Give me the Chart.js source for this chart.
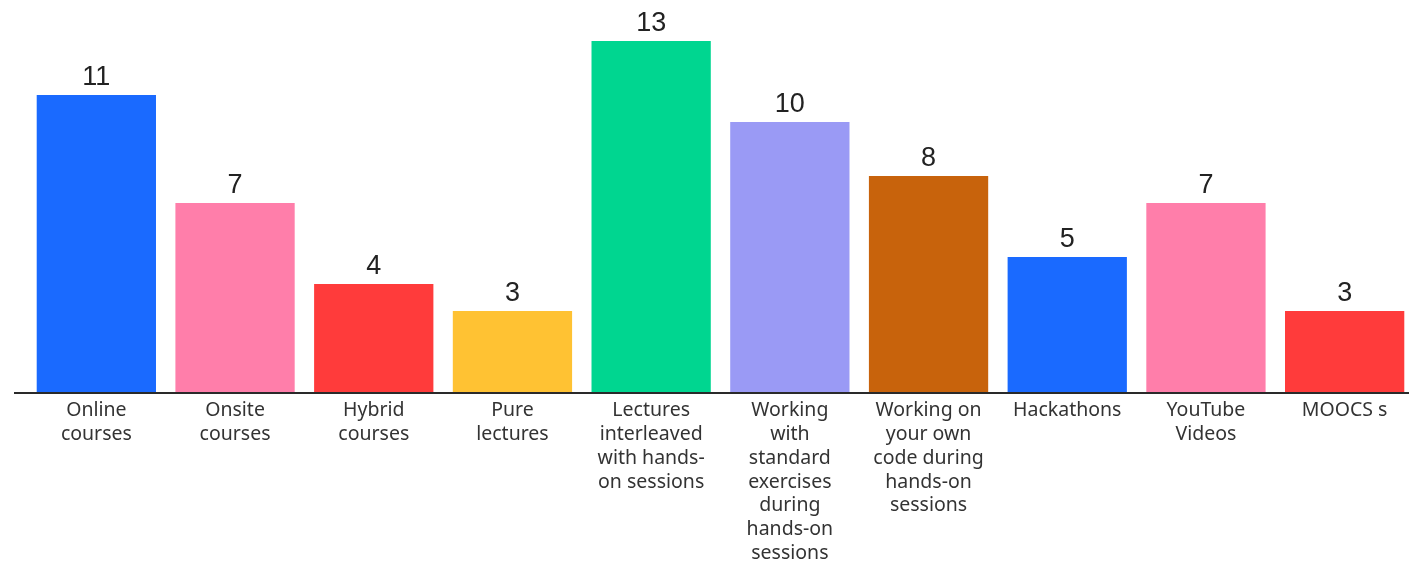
<!DOCTYPE html>
<html>
<head>
<meta charset="utf-8">
<script src="https://cdn.jsdelivr.net/npm/chart.js@4/dist/chart.umd.min.js"></script>
<style>
  html, body { margin: 0; padding: 0; background: #fff; overflow: hidden; }
  #wrap { width: 1414px; height: 563px; }
</style>
</head>
<body>
<div id="wrap"><canvas id="chart"></canvas></div>
<script>
var categories = [
  ['Online', 'courses'],
  ['Onsite', 'courses'],
  ['Hybrid', 'courses'],
  ['Pure', 'lectures'],
  ['Lectures', 'interleaved', 'with hands-', 'on sessions'],
  ['Working', 'with', 'standard', 'exercises', 'during', 'hands-on', 'sessions'],
  ['Working on', 'your own', 'code during', 'hands-on', 'sessions'],
  ['Hackathons'],
  ['YouTube', 'Videos'],
  ['MOOCS s']
];
var values = [11, 7, 4, 3, 13, 10, 8, 5, 7, 3];
var barColors = ['#1a6aff', '#ff7eaa', '#ff3b3b', '#ffc233', '#00d690',
                 '#9a9af5', '#c8630c', '#1a6aff', '#ff7eaa', '#ff3b3b'];

// value labels on top of the bars
var valueLabels = {
  id: 'valueLabels',
  afterDatasetsDraw: function(chart) {
    var ctx = chart.ctx;
    var meta = chart.getDatasetMeta(0);
    ctx.save();
    ctx.font = '27px "Liberation Sans", Arial, sans-serif';
    ctx.fillStyle = '#222';
    ctx.textAlign = 'center';
    ctx.textBaseline = 'alphabetic';
    meta.data.forEach(function(bar, i) {
      ctx.fillText(values[i], bar.x, bar.y - 10);
    });
    ctx.restore();
  }
};

// baseline runs a bit past the first bar on the left
var baseLine = {
  id: 'baseLine',
  afterDatasetsDraw: function(chart) {
    var ctx = chart.ctx;
    var y = chart.scales.y.getPixelForValue(0);
    ctx.save();
    ctx.strokeStyle = '#2a2a2a';
    ctx.lineWidth = 2;
    ctx.beginPath();
    ctx.moveTo(chart.chartArea.left - 13, y + 1);
    ctx.lineTo(chart.width, y + 1);
    ctx.stroke();
    ctx.restore();
  }
};

new Chart(document.getElementById('chart'), {
  type: 'bar',
  data: {
    labels: categories,
    datasets: [{
      data: values,
      backgroundColor: barColors,
      borderWidth: 0,
      barPercentage: 0.86,
      categoryPercentage: 1.0
    }]
  },
  options: {
    responsive: true,
    maintainAspectRatio: false,
    animation: false,
    layout: { padding: { left: 27, right: 0, top: 14, bottom: 0 } },
    plugins: {
      legend: { display: false },
      tooltip: { enabled: false }
    },
    scales: {
      x: {
        grid: { display: false, drawTicks: false },
        border: { display: false },
        ticks: {
          color: '#333',
          font: { family: '"Noto Sans", sans-serif', size: 19.5, lineHeight: 1.23 },
          padding: 6,
          maxRotation: 0,
          autoSkip: false
        },
        afterFit: function(scale) { scale.height = 171; }
      },
      y: {
        display: false,
        min: 0,
        max: 14
      }
    }
  },
  plugins: [valueLabels, baseLine]
});
</script>
</body>
</html>
